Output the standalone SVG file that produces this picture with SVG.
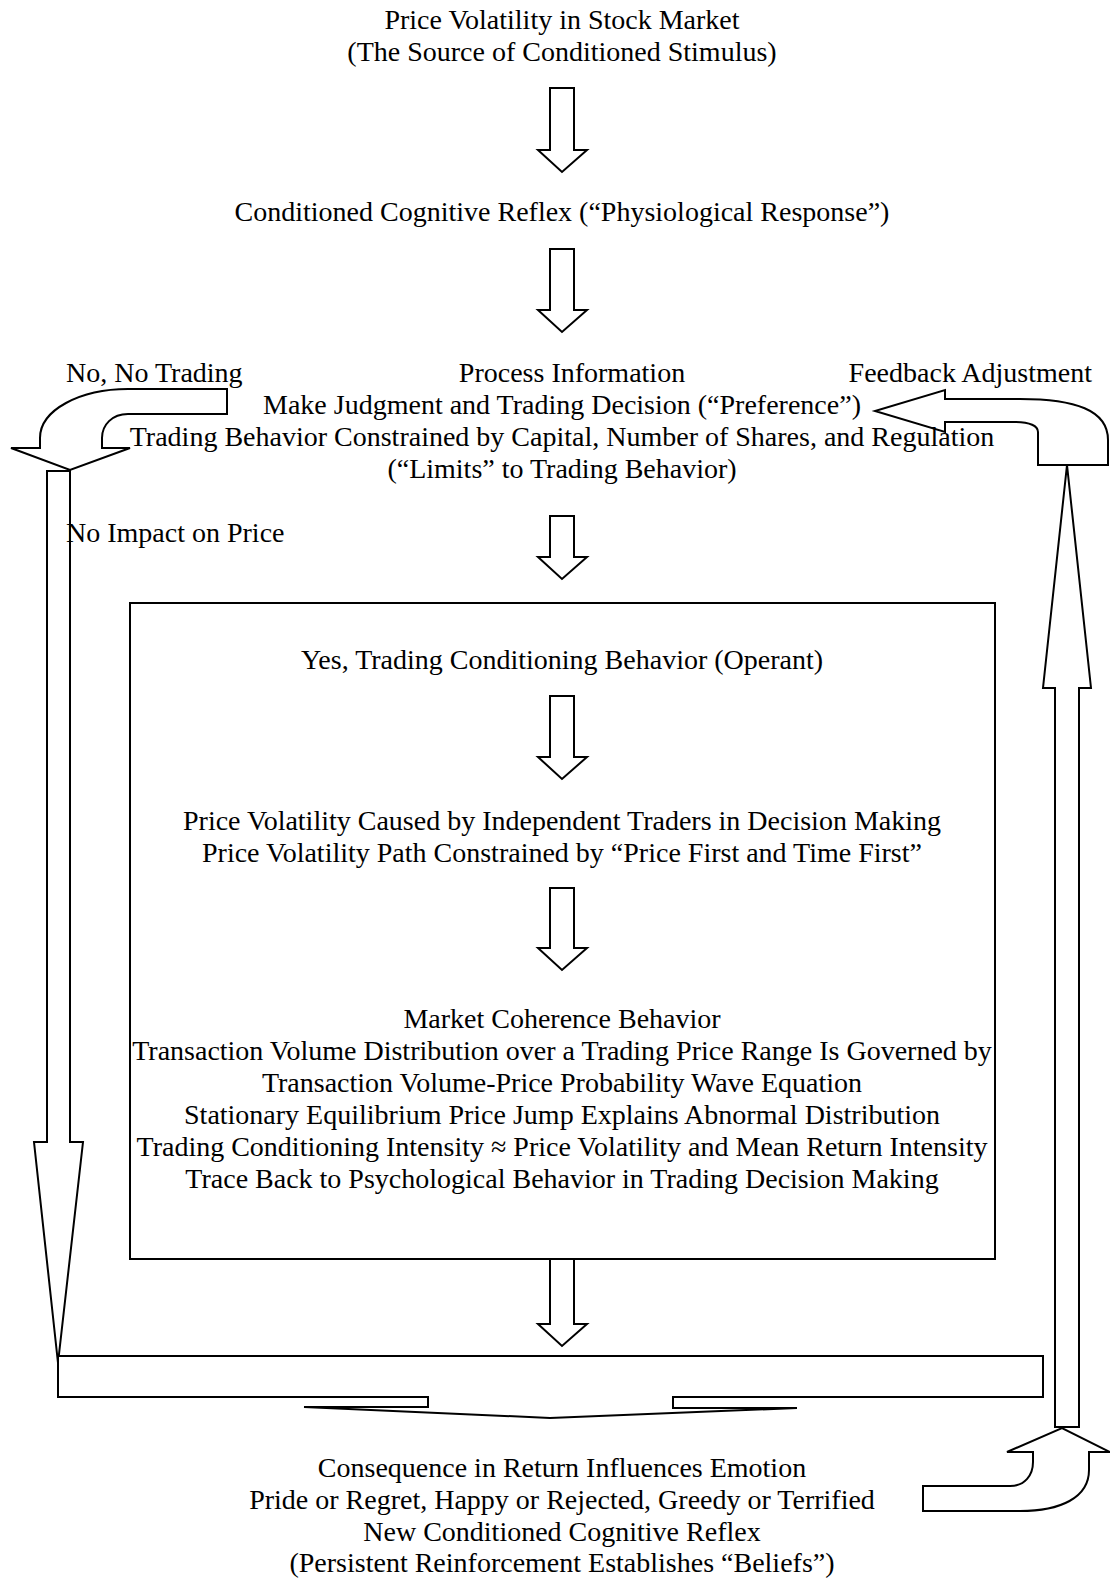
<svg xmlns="http://www.w3.org/2000/svg" width="1110" height="1580" viewBox="0 0 1110 1580">
<style>
text{font-family:"Liberation Serif","Times New Roman",serif;font-size:28px;fill:#000}
.c{text-anchor:middle}
.s{fill:#fff;stroke:#000;stroke-width:2;stroke-linejoin:miter}
</style>
<rect width="1110" height="1580" fill="#fff"/>
<g id="box">
<rect class="s" x="130" y="603" width="865" height="656"/>
</g>
<g id="connectors">
<path class="s" d="M550,88 H574 V150 H587 L562,172 L538,150 H550 Z"/>
<path class="s" d="M550,249 H574 V310 H587 L562,332 L538,310 H550 Z"/>
<path class="s" d="M550,516 H574 V557 H587 L562,579 L538,557 H550 Z"/>
<path class="s" d="M550,696 H574 V757 H587 L562,779 L538,757 H550 Z"/>
<path class="s" d="M550,888 H574 V948 H587 L562,970 L538,948 H550 Z"/>
<path class="s" d="M550,1259 H574 V1324 H587 L562,1346 L538,1324 H550 Z"/>
<path class="s" d="M227,389 V414 H128 C112,414 102,425 102,438 V448 H130 L70,470 L11,448 H40 V438 C40,410 80,389 128,389 Z"/>
<path class="s" d="M47,471 H70 V1142 H83 L58,1363 L34,1142 H47 Z"/>
<path class="s" d="M58,1356 H1043 V1397 H673 V1408 H797 L550,1418 L304,1407 H428 V1397 H58 Z"/>
<path class="s" d="M1055,1427 V688 H1043 L1067,465 L1091,688 H1079 V1427 Z"/>
<path class="s" d="M1108,465 H1038 V432 C1038,426 1030,422 1015,422 H945 V432 L875,411 L945,390 V399 H1020 C1075,399 1108,410 1108,440 Z"/>
<path class="s" d="M923,1486 H1010 C1025,1486 1033,1475 1033,1462 V1452 H1007 L1062,1428 L1110,1452 H1089 V1470 C1089,1498 1060,1511 1020,1511 H923 Z"/>
</g>
<g id="n1"><text class="c" x="562" y="29">Price Volatility in Stock Market</text><text class="c" x="562" y="61">(The Source of Conditioned Stimulus)</text></g>
<g id="n2"><text class="c" x="562" y="221">Conditioned Cognitive Reflex (“Physiological Response”)</text></g>
<g id="n3"><text class="c" x="572" y="382">Process Information</text><text class="c" x="562" y="414">Make Judgment and Trading Decision (“Preference”)</text><text class="c" x="562" y="446">Trading Behavior Constrained by Capital, Number of Shares, and Regulation</text><text class="c" x="562" y="478">(“Limits” to Trading Behavior)</text></g>
<g id="lbl-no"><text x="66" y="382">No, No Trading</text><text x="66" y="542">No Impact on Price</text></g>
<g id="lbl-fb"><text x="1092" y="382" text-anchor="end">Feedback Adjustment</text></g>
<g id="n4"><text class="c" x="562" y="669">Yes, Trading Conditioning Behavior (Operant)</text></g>
<g id="n5"><text class="c" x="562" y="830">Price Volatility Caused by Independent Traders in Decision Making</text><text class="c" x="562" y="862">Price Volatility Path Constrained by “Price First and Time First”</text></g>
<g id="n6"><text class="c" x="562" y="1028">Market Coherence Behavior</text><text class="c" x="562" y="1060">Transaction Volume Distribution over a Trading Price Range Is Governed by</text><text class="c" x="562" y="1092">Transaction Volume-Price Probability Wave Equation</text><text class="c" x="562" y="1124">Stationary Equilibrium Price Jump Explains Abnormal Distribution</text><text class="c" x="562" y="1156">Trading Conditioning Intensity ≈ Price Volatility and Mean Return Intensity</text><text class="c" x="562" y="1188">Trace Back to Psychological Behavior in Trading Decision Making</text></g>
<g id="n7"><text class="c" x="562" y="1477">Consequence in Return Influences Emotion</text><text class="c" x="562" y="1509">Pride or Regret, Happy or Rejected, Greedy or Terrified</text><text class="c" x="562" y="1541">New Conditioned Cognitive Reflex</text><text class="c" x="562" y="1572">(Persistent Reinforcement Establishes “Beliefs”)</text></g>
</svg>
